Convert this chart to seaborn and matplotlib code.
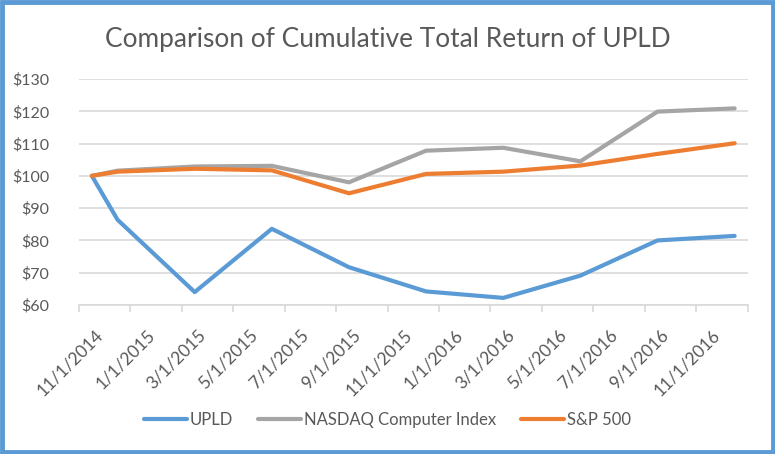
import matplotlib
matplotlib.use("Agg")
import matplotlib.pyplot as plt
import matplotlib.transforms as mtransforms
import seaborn as sns
import pandas as pd
import numpy as np
from matplotlib.lines import Line2D

# ---- data ----
dates = ["2014-11-01", "2014-12-01", "2015-03-01", "2015-06-01", "2015-09-01",
         "2015-12-01", "2016-03-01", "2016-06-01", "2016-09-01", "2016-12-01"]
upld = [100, 86.4, 64.0, 83.6, 71.7, 64.2, 62.2, 69.1, 80.0, 81.4]
nasdaq = [100, 101.6, 102.9, 103.1, 98.0, 107.8, 108.7, 104.5, 119.9, 120.9]
sp500 = [100, 101.3, 102.2, 101.7, 94.6, 100.6, 101.3, 103.2, 106.8, 110.1]
series_names = ["UPLD", "NASDAQ Computer Index", "S&P 500"]
tick_labels = ["11/1/2014", "1/1/2015", "3/1/2015", "5/1/2015", "7/1/2015",
               "9/1/2015", "11/1/2015", "1/1/2016", "3/1/2016", "5/1/2016",
               "7/1/2016", "9/1/2016", "11/1/2016"]
y_ticks = [60, 70, 80, 90, 100, 110, 120, 130]
title = "Comparison of Cumulative Total Return of UPLD"

colors = ["#5B9BD5", "#A5A5A5", "#ED7D31"]

# month-bin positions (Excel date axis with base unit = months, points centred in month)
start = pd.Timestamp("2014-11-01")
def month_pos(d):
    d = pd.Timestamp(d)
    return (d.year - start.year) * 12 + (d.month - start.month) + 0.5

x = [month_pos(d) for d in dates]
df = pd.DataFrame({
    "x": x * 3,
    "value": upld + nasdaq + sp500,
    "series": sum([[n] * len(dates) for n in series_names], []),
})

sns.set_theme(style="white")
plt.rcParams["font.family"] = ["Lato", "DejaVu Sans"]

fig = plt.figure(figsize=(7.75, 4.54), dpi=100)
ax = fig.add_axes([79 / 775, 1 - 305 / 454, (747.5 - 79) / 775, (305 - 79) / 454])

sns.lineplot(data=df, x="x", y="value", hue="series", palette=colors,
             hue_order=series_names, linewidth=3.0, ax=ax, legend=False,
             solid_capstyle="round", solid_joinstyle="round")

ax.set_xlim(0, 26)
ax.set_ylim(60, 130)
ax.set_yticks(y_ticks)
ax.set_yticklabels([f"${v}" for v in y_ticks])
tick_pos = [month_pos(pd.Timestamp(t.split("/")[2] + "-" + t.split("/")[0] + "-01")) - 0.5
            for t in tick_labels]
ax.set_xticks(tick_pos + [26])
ax.set_xticklabels(tick_labels + [""], rotation=45, ha="right", va="top",
                   rotation_mode="anchor")
ax.set_xlabel("")
ax.set_ylabel("")

ax.grid(axis="y", color="#D9D9D9", linewidth=1.2)
ax.set_axisbelow(True)
for s in ["top", "right", "left"]:
    ax.spines[s].set_visible(False)
ax.spines["bottom"].set_color("#D9D9D9")
ax.spines["bottom"].set_linewidth(1.2)
ax.tick_params(axis="x", which="major", bottom=True, length=5, width=1.2,
               color="#D9D9D9", labelsize=12.5, labelcolor="#595959", pad=3)
ax.tick_params(axis="y", left=False, labelsize=11.5, labelcolor="#595959", pad=15.5)

offset = mtransforms.ScaledTranslation(16 / 100, -11 / 100, fig.dpi_scale_trans)
for lab in ax.get_xticklabels():
    lab.set_transform(lab.get_transform() + offset)

fig.text(0.5, 1 - 40 / 454, title, ha="center", va="center",
         fontsize=18.9, color="#595959")

handles = [Line2D([0], [0], color=c, linewidth=3.0, solid_capstyle="round") for c in colors]
fig.legend(handles, series_names, loc="center", bbox_to_anchor=(0.5, 1 - 420 / 454),
           ncol=3, frameon=False, fontsize=12, labelcolor="#595959",
           handlelength=2.6, handletextpad=0.15, columnspacing=1.5)

# chart outline
fig.patches.append(plt.Rectangle((0.0025, 0.004), 0.995, 0.992, transform=fig.transFigure,
                                 fill=False, edgecolor="#5B9BD5", linewidth=3.5))

fig.savefig("out.png", dpi=100)
